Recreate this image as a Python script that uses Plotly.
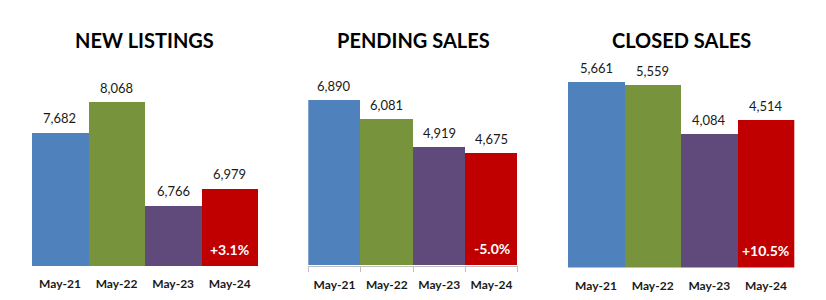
import plotly.graph_objects as go

W, H = 826, 300

categories = ["May-21", "May-22", "May-23", "May-24"]
titles = ["NEW LISTINGS", "PENDING SALES", "CLOSED SALES"]
new_listings = [7682, 8068, 6766, 6979]
pending_sales = [6890, 6081, 4919, 4675]
closed_sales = [5661, 5559, 4084, 4514]
changes = ["+3.1%", "-5.0%", "+10.5%"]

series = [new_listings, pending_sales, closed_sales]
colors = ["#4F81BD", "#77933C", "#604A7B", "#C00000"]

# layout (pixels)
x_px = [(31.7, 258.0), (308.3, 517.7), (567.7, 794.3)]
y_px = [(67.5, 266.0), (73.3, 265.5), (70.9, 267.5)]   # (top, bottom)
y_ranges = [(6000, 8500), (0, 8000), (0, 6000)]
FONT = "Lato"
TXT = "#1A1A1A"

fig = go.Figure()
for i, vals in enumerate(series):
    xa = "x" if i == 0 else f"x{i+1}"
    ya = "y" if i == 0 else f"y{i+1}"
    base = y_ranges[i][0]
    fig.add_trace(go.Bar(
        x=categories, y=[v - base for v in vals], base=base,
        marker=dict(color=colors, line=dict(width=0)),
        xaxis=xa, yaxis=ya, showlegend=False, hoverinfo="skip",
    ))
    axn = "" if i == 0 else str(i + 1)
    show_ticks = (i == 1)
    fig.layout["xaxis" + axn] = dict(
        domain=[x_px[i][0] / W, x_px[i][1] / W], anchor=ya,
        showgrid=False, zeroline=False,
        showline=show_ticks, linecolor="#BFBFBF", linewidth=1,
        ticks="outside" if show_ticks else "", tickson="boundaries",
        ticklen=5, tickcolor="#BFBFBF",
        ticklabelstandoff=8 if show_ticks else 9,
        tickfont=dict(family=FONT, size=12, color=TXT, weight="bold"),
        fixedrange=True,
    )
    fig.layout["yaxis" + axn] = dict(
        domain=[1 - y_px[i][1] / H, 1 - y_px[i][0] / H], anchor=xa,
        range=list(y_ranges[i]), visible=False, fixedrange=True,
    )
    # value labels
    for c, v in zip(categories, vals):
        fig.add_annotation(
            x=c, y=v, xref=xa, yref=ya, text=f"{v:,}", showarrow=False,
            yanchor="bottom", yshift=4,
            font=dict(family=FONT, size=13, color=TXT),
        )
    # change label in last bar
    fig.add_annotation(
        x=categories[-1], y=base, xref=xa, yref=ya, text=changes[i],
        showarrow=False, yanchor="middle", yshift=17,
        font=dict(family=FONT, size=14, color="white", weight="bold"),
    )
    # title
    fig.add_annotation(
        x=(x_px[i][0] + x_px[i][1]) / 2 / W, y=1 - 40 / H, xref="paper", yref="paper",
        text=titles[i], showarrow=False, yanchor="middle", xanchor="center",
        font=dict(family=FONT, size=20, color="#000000", weight="bold"),
    )

fig.update_layout(
    width=W, height=H, margin=dict(l=0, r=0, t=0, b=0),
    paper_bgcolor="white", plot_bgcolor="white",
    bargap=0,
)

fig.write_html("out.html", config={"displayModeBar": False})
